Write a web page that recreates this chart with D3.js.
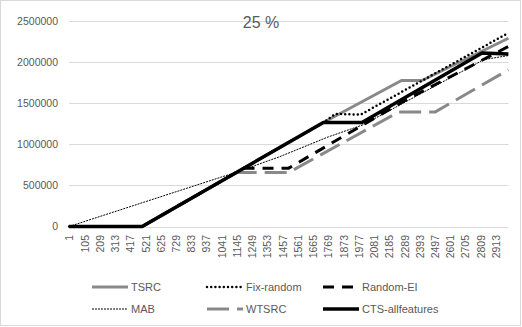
<!DOCTYPE html>
<html>
<head>
<meta charset="utf-8">
<script src="https://cdn.jsdelivr.net/npm/d3@7"></script>
<style>
  body { margin: 0; background: #fff; }
  text { font-family: "Liberation Sans", Arial, sans-serif; fill: #595959; }
</style>
</head>
<body>
<div id="chart"></div>
<script>
const width = 522,
    height = 327;

// category labels on the x axis (every 104th run)
const xTickLabels = [1, 105, 209, 313, 417, 521, 625, 729, 833, 937, 1041, 1145, 1249, 1353, 1457,
    1561, 1665, 1769, 1873, 1977, 2081, 2185, 2289, 2393, 2497, 2601, 2705, 2809, 2913];
const yTickValues = [0, 500000, 1000000, 1500000, 2000000, 2500000];
const lastCategory = 3000;

// breakpoints: [category, value]
const tsrc = [[1, 0], [500, 0], [1737, 1265000], [2270, 1776000], [2410, 1776000], [3000, 2290000]];
const fixRandom = [[1, 0], [500, 0], [1737, 1265000], [1820, 1370000], [1990, 1360000], [3000, 2355000]];
const randomEI = [[1, 0], [500, 0], [1194, 710000], [1500, 710000], [2300, 1540000], [3000, 2190000]];
const mab = [[1, 0], [1150, 665000], [1440, 850000], [1770, 1090000], [2007, 1237000], [2750, 1950000], [2830, 2030000], [3000, 2080000]];
const wtsrc = [[1, 0], [500, 0], [1142, 657000], [1500, 657000], [2250, 1392000], [2498, 1392000], [3000, 1906000]];
const ctsAll = [[1, 0], [500, 0], [1737, 1265000], [2000, 1265000], [2820, 2110000], [3000, 2100000]];

const seriesNames = ["TSRC", "Fix-random", "Random-EI", "MAB", "WTSRC", "CTS-allfeatures"];
const seriesData = [tsrc, fixRandom, randomEI, mab, wtsrc, ctsAll];

const styles = [
    { color: "#898989", width: 3, dash: null, cap: "butt" },
    { color: "#000", width: 2.5, dash: "0 4.2", cap: "round" },
    { color: "#000", width: 3, dash: "11 8", cap: "butt" },
    { color: "#000", width: 1, dash: "2 1", cap: "butt" },
    { color: "#898989", width: 3, dash: "22 8", cap: "butt" },
    { color: "#000", width: 3.5, dash: null, cap: "butt" }
];

const svg = d3.select("#chart")
    .append("svg")
    .attr("width", width)
    .attr("height", height);

svg.append("rect")
    .attr("x", 0.5)
    .attr("y", 0.5)
    .attr("width", width - 2)
    .attr("height", height - 2)
    .attr("fill", "#fff")
    .attr("stroke", "#d9d9d9");

const x = d3.scaleLinear()
    .domain([0.5, lastCategory + 0.5])
    .range([69, 508.5]);

const y = d3.scaleLinear()
    .domain([0, 2500000])
    .range([226.5, 21]);

// gridlines
svg.append("g")
    .selectAll("line")
    .data(yTickValues)
    .enter()
    .append("line")
    .attr("x1", x.range()[0])
    .attr("x2", x.range()[1])
    .attr("y1", d => Math.round(y(d)) + 0.5)
    .attr("y2", d => Math.round(y(d)) + 0.5)
    .attr("stroke", "#d9d9d9")
    .attr("stroke-width", 1);

// y axis labels
const yAxis = d3.axisLeft(y)
    .tickValues(yTickValues)
    .tickFormat(d3.format("d"))
    .tickSize(0)
    .tickPadding(0);

svg.append("g")
    .attr("transform", "translate(58,0)")
    .call(yAxis)
    .call(g => g.select(".domain").remove())
    .selectAll("text")
    .style("font-size", "10.5px")
    .style("fill", "#595959");

// x axis labels, rotated
const xAxis = d3.axisBottom(x)
    .tickValues(xTickLabels)
    .tickFormat(d => d)
    .tickSize(0);

svg.append("g")
    .attr("transform", "translate(0,235)")
    .call(xAxis)
    .call(g => g.select(".domain").remove())
    .selectAll("text")
    .attr("transform", "rotate(-90)")
    .attr("x", 0)
    .attr("y", 0)
    .attr("dx", 0)
    .attr("dy", "0.36em")
    .attr("text-anchor", "end")
    .style("font-size", "10.5px")
    .style("fill", "#595959");

// lines
const line = d3.line()
    .x(d => x(d[0]))
    .y(d => y(d[1]));

svg.append("g")
    .selectAll("path")
    .data(seriesData)
    .enter()
    .append("path")
    .attr("d", line)
    .attr("fill", "none")
    .attr("stroke", (d, i) => styles[i].color)
    .attr("stroke-width", (d, i) => styles[i].width)
    .attr("stroke-dasharray", (d, i) => styles[i].dash)
    .attr("stroke-linecap", (d, i) => styles[i].cap)
    .attr("stroke-linejoin", "round");

// title
svg.append("text")
    .attr("x", 261)
    .attr("y", 27.5)
    .attr("text-anchor", "middle")
    .style("font-size", "16px")
    .text("25 %");

// legend: 3 columns, 2 rows
const legendCols = [92, 207, 323],
    legendRows = [287, 309];

const legend = svg.append("g")
    .selectAll("g")
    .data(seriesNames)
    .enter()
    .append("g")
    .attr("transform", (d, i) => `translate(${legendCols[i % 3]},${legendRows[Math.floor(i / 3)]})`);

legend.append("line")
    .attr("x1", 0)
    .attr("x2", 36)
    .attr("y1", 0)
    .attr("y2", 0)
    .attr("stroke", (d, i) => styles[i].color)
    .attr("stroke-width", (d, i) => styles[i].width)
    .attr("stroke-dasharray", (d, i) => styles[i].dash)
    .attr("stroke-linecap", (d, i) => styles[i].cap);

legend.append("text")
    .attr("x", 39)
    .attr("y", 4)
    .style("font-size", "11px")
    .text(d => d);
</script>
</body>
</html>
